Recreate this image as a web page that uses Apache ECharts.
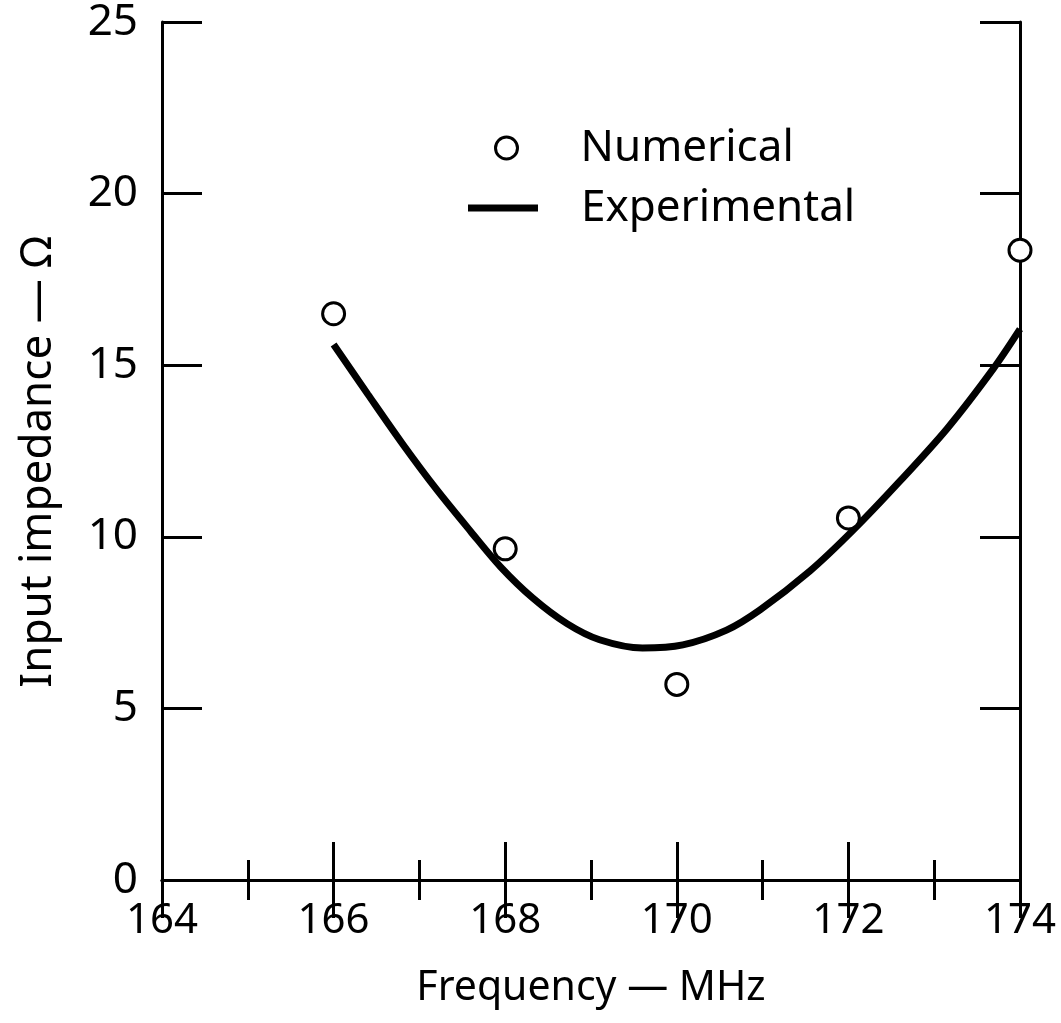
<!DOCTYPE html>
<html>
<head>
<meta charset="utf-8">
<script src="https://cdn.jsdelivr.net/npm/echarts@6/dist/echarts.min.js"></script>
<style>
html,body{margin:0;padding:0;background:#fff;}
#chart{width:1061px;height:1023px;}
</style>
</head>
<body>
<div id="chart"></div>
<script>
// Numerical results (circles)
var numFreq = [166, 168, 170, 172, 174];
var numImpedance = [16.5, 9.65, 5.7, 10.55, 18.35];

// Experimental curve (solid line)
var expFreq = [166.0, 166.4, 166.8, 167.2, 167.6, 167.94, 168.32, 168.72, 169.1, 169.6, 170.07, 170.58, 170.97, 171.55, 172.05, 172.6, 173.15, 173.69, 174.0];
var expImpedance = [15.6, 14.15, 12.72, 11.38, 10.15, 9.14, 8.22, 7.47, 7.0, 6.76, 6.85, 7.28, 7.87, 9.0, 10.18, 11.62, 13.15, 14.9, 16.05];

var xTitle = 'Frequency — MHz';
var yTitle = 'Input impedance — Ω';
var seriesNames = ['Numerical', 'Experimental'];

var FONT = 'Noto Sans';

function pairs(xs, ys) {
  return xs.map(function (x, i) { return [x, ys[i]]; });
}

var chart = echarts.init(document.getElementById('chart'), null, {renderer: 'canvas'});

var axisLine = {show: true, lineStyle: {color: '#000', width: 3}};

var option = {
  backgroundColor: '#fff',
  animation: false,
  grid: {left: 162, right: 41, top: 22, bottom: 143, containLabel: false},
  legend: [
    {
      data: [{name: seriesNames[0], icon: 'circle'}],
      left: 494, top: 126, padding: 0,
      itemWidth: 22, itemHeight: 22,
      itemStyle: {color: '#fff', borderColor: '#000', borderWidth: 3},
      textStyle: {fontFamily: FONT, fontSize: 44, color: '#000', padding: [0, 0, 0, 58]},
      selectedMode: false
    },
    {
      data: [{name: seriesNames[1], icon: 'rect'}],
      left: 468, top: 186, padding: 0,
      itemWidth: 70, itemHeight: 7,
      itemStyle: {color: '#000'},
      textStyle: {fontFamily: FONT, fontSize: 44, color: '#000', padding: [0, 0, 0, 38]},
      selectedMode: false
    }
  ],
  xAxis: [
    {
      type: 'value', position: 'bottom', min: 164, max: 174, interval: 2,
      axisLine: axisLine,
      axisTick: {show: true, inside: true, length: 38, lineStyle: {color: '#000', width: 3}},
      minorTick: {show: true, splitNumber: 2, length: 20, lineStyle: {color: '#000', width: 3}},
      splitLine: {show: false},
      minorSplitLine: {show: false},
      axisLabel: {fontFamily: FONT, fontSize: 42, color: '#000', margin: 20},
      name: xTitle, nameLocation: 'middle', nameGap: 88,
      nameTextStyle: {fontFamily: FONT, fontSize: 41, color: '#000'}
    },
    {
      type: 'value', position: 'top', min: 164, max: 174, interval: 2,
      axisLine: axisLine,
      axisTick: {show: true, inside: true, length: 38, lineStyle: {color: '#000', width: 3}},
      minorTick: {show: true, splitNumber: 2, length: 20, lineStyle: {color: '#000', width: 3}},
      splitLine: {show: false},
      axisLabel: {show: false}
    }
  ],
  yAxis: [
    {
      type: 'value', position: 'left', min: 0, max: 25, interval: 5,
      axisLine: axisLine,
      axisTick: {show: true, inside: true, length: 40, lineStyle: {color: '#000', width: 3}},
      splitLine: {show: false},
      axisLabel: {fontFamily: FONT, fontSize: 44, color: '#000', margin: 24},
      name: yTitle, nameLocation: 'middle', nameGap: 102,
      nameTextStyle: {fontFamily: FONT, fontSize: 44, color: '#000', padding: [0, 22, 0, 0]}
    },
    {
      type: 'value', position: 'right', min: 0, max: 25, interval: 5,
      axisLine: axisLine,
      axisTick: {show: true, inside: true, length: 40, lineStyle: {color: '#000', width: 3}},
      splitLine: {show: false},
      axisLabel: {show: false}
    }
  ],
  series: [
    {
      name: seriesNames[1], type: 'line', xAxisIndex: 0, yAxisIndex: 0,
      data: pairs(expFreq, expImpedance),
      smooth: 0.3, showSymbol: false, symbol: 'none',
      lineStyle: {color: '#000', width: 7},
      itemStyle: {color: '#000'},
      clip: false, z: 2
    },
    {
      name: seriesNames[0], type: 'scatter', xAxisIndex: 0, yAxisIndex: 0,
      data: pairs(numFreq, numImpedance),
      symbol: 'circle', symbolSize: 22,
      itemStyle: {color: '#fff', borderColor: '#000', borderWidth: 3, opacity: 1},
      clip: false, z: 5
    }
  ]
};

chart.setOption(option);
</script>
</body>
</html>
